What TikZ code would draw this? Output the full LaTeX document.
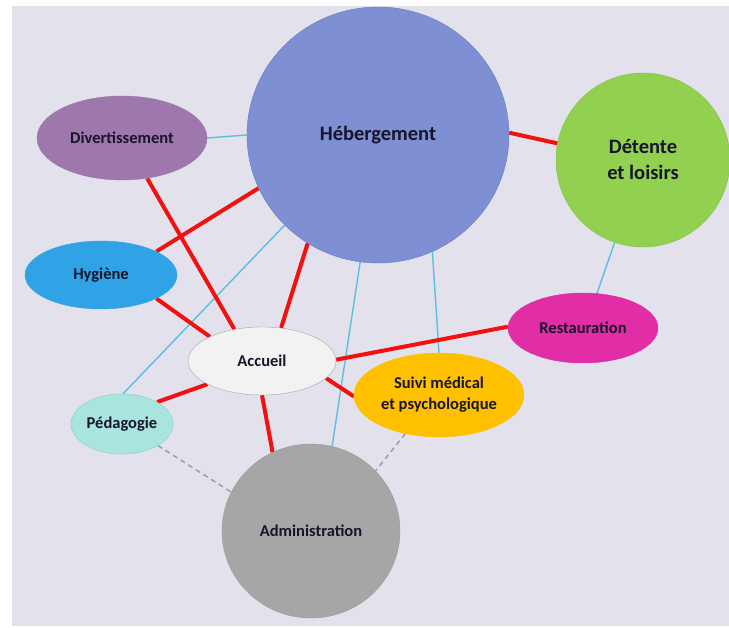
\documentclass[tikz,border=0pt]{standalone}
\usepackage{fontspec}
\setmainfont{Carlito}
\usetikzlibrary{shapes.geometric}
\pgfdeclarelayer{bg}
\pgfsetlayers{bg,main}
\definecolor{bgc}{HTML}{E2E1EC}
\definecolor{txt}{HTML}{16162A}
\definecolor{redc}{HTML}{F41010}
\definecolor{bluec}{HTML}{5CBFE2}
\definecolor{dashc}{HTML}{9A9AA2}
\definecolor{hebf}{HTML}{7F8FD4}
\definecolor{hebd}{HTML}{6A79BE}
\definecolor{detf}{HTML}{92D050}
\definecolor{detd}{HTML}{86C04A}
\definecolor{divf}{HTML}{9E77AC}
\definecolor{hygf}{HTML}{2FA3E6}
\definecolor{accf}{HTML}{F2F2F2}
\definecolor{accd}{HTML}{A6A6A6}
\definecolor{pedf}{HTML}{A9E5DE}
\definecolor{pedd}{HTML}{80D0C5}
\definecolor{suif}{HTML}{FFC000}
\definecolor{resf}{HTML}{E12DA6}
\definecolor{admf}{HTML}{A6A6A6}
\definecolor{admd}{HTML}{9A9A9A}
\tikzset{
  bub/.style={ellipse, inner sep=0pt, text=txt, align=center,
    font=\bfseries\fontsize{16.5}{21}\selectfont},
  bigbub/.style={bub, font=\bfseries\fontsize{20.5}{26}\selectfont},
  redl/.style={draw=redc, line width=4pt},
  bluel/.style={draw=bluec, line width=1.4pt},
  dashl/.style={draw=dashc, line width=1.4pt, dash pattern=on 5pt off 4pt},
}
\begin{document}
\begin{tikzpicture}[x=1pt,y=-1pt]
\useasboundingbox (0,0) rectangle (729,628);

\node[bigbub, fill=hebf, draw=hebd, minimum width=262pt, minimum height=256pt] (h) at (378,135) {Hébergement};
\node[bigbub, fill=detf, draw=detd, minimum width=174pt, minimum height=174pt] (d) at (643,160) {Détente\\et loisirs};
\node[bub, fill=divf, draw=divf, minimum width=170pt, minimum height=84pt] (div) at (122,138) {Divertissement};
\node[bub, fill=hygf, draw=hygf, minimum width=152pt, minimum height=68pt] (hyg) at (101,275) {Hygiène};
\node[bub, fill=accf, draw=accd, minimum width=148pt, minimum height=68pt] (acc) at (262,361) {Accueil};
\node[bub, fill=pedf, draw=pedd, minimum width=102pt, minimum height=60pt] (ped) at (122,424) {Pédagogie};
\node[bub, fill=suif, draw=suif, minimum width=170pt, minimum height=84pt] (sui) at (439,395) {Suivi médical\\et psychologique};
\node[bub, fill=resf, draw=resf, minimum width=150pt, minimum height=70pt] (res) at (583,328) {Restauration};
\node[bub, fill=admf, draw=admd, minimum width=178pt, minimum height=174pt] (adm) at (311,531) {Administration};

\begin{pgfonlayer}{bg}
  \fill[white] (0,0) rectangle (729,628);
  \fill[bgc] (12,6) rectangle (729,626);
  % blue links
  \draw[bluel] (div.0) -- (h.180);
  \draw[bluel] (ped.88) -- (h.224);
  \draw[bluel] (adm.76) -- (h.262);
  \draw[bluel] (sui.90) -- (h.295);
  \draw[bluel] (d.251) -- (res.68);
  % dashed links
  \draw[dashl] (ped.-31) -- (adm.154);
  \draw[dashl] (sui.229) -- (adm.43);
  % red links
  \draw[redl] (h.1) -- (d.169);
  \draw[redl] (div.-58) -- (acc.131);
  \draw[redl] (hyg.23) -- (h.204);
  \draw[redl] (hyg.-23) -- (acc.155);
  \draw[redl] (h.237) -- (acc.60);
  \draw[redl] (acc.1) -- (res.179);
  \draw[redl] (acc.-15) -- (sui.181);
  \draw[redl] (acc.203) -- (ped.32);
  \draw[redl] (acc.270) -- (adm.116);
\end{pgfonlayer}
\end{tikzpicture}
\end{document}
